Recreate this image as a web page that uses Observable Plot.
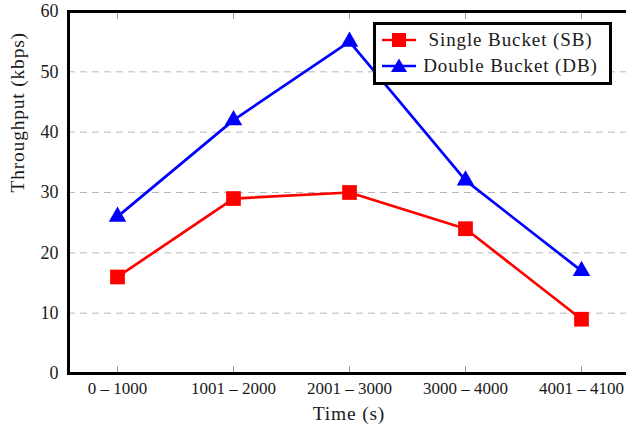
<!DOCTYPE html>
<html>
<head>
<meta charset="utf-8">
<script src="https://cdn.jsdelivr.net/npm/d3@7"></script>
<script src="https://cdn.jsdelivr.net/npm/@observablehq/plot@0.6"></script>
<style>
  html, body { margin: 0; padding: 0; background: #fff; overflow: hidden; }
  #wrap { position: relative; width: 626px; height: 425px; overflow: hidden; }
  #wrap > svg { max-width: none !important; font-family: "Liberation Serif", serif !important; }
  #wrap > svg text { font-family: "Liberation Serif", serif; }
  #legend {
    position: absolute; left: 373px; top: 22px; width: 233px; height: 57px;
    border: 3px solid #000; background: #fff; box-sizing: content-box;
    font-family: "Liberation Serif", serif; font-size: 19px; letter-spacing: 0.9px; color: #1a1a1a;
  }
  #legend .row { position: absolute; left: 0; height: 24px; width: 233px; }
  #legend svg { position: absolute; left: 5px; top: 4px; }
  #legend span { position: absolute; left: 36px; right: 0; text-align: center; top: 1px; white-space: nowrap; }
</style>
</head>
<body>
<div id="wrap"></div>
<script>
const categories = ["0 – 1000", "1001 – 2000", "2001 – 3000", "3000 – 4000", "4001 – 4100"];
const singleBucket = [16, 29, 30, 24, 9];
const doubleBucket = [26, 42, 55, 32, 17];
const yTicks = [0, 10, 20, 30, 40, 50, 60];
const seriesNames = ["Single Bucket (SB)", "Double Bucket (DB)"];
const seriesColors = ["#ff0000", "#0000ff"];

const sb = categories.map((c, i) => ({cat: c, v: singleBucket[i]}));
const db = categories.map((c, i) => ({cat: c, v: doubleBucket[i]}));

const tickShape = {draw(context, l) { context.moveTo(0, 0); context.lineTo(0, -l); }};
const serif = "Liberation Serif";

const chart = Plot.plot({
  width: 630,
  height: 425,
  marginLeft: 68,
  marginRight: 1,
  marginTop: 11,
  marginBottom: 52,
  style: {fontFamily: serif, fontSize: "17px", color: "#1a1a1a", background: "transparent"},
  x: {type: "point", domain: categories, padding: 0.4, label: null},
  y: {domain: [0, 60], label: null},
  marks: [
    Plot.gridY(yTicks.slice(1, -1), {stroke: "#b8b8b8", strokeOpacity: 1, strokeDasharray: "7,5", strokeWidth: 1}),
    Plot.vectorX(categories, {x: d => d, frameAnchor: "bottom", length: 7, anchor: "start", rotate: 0, shape: tickShape, stroke: "#9a9a9a", strokeWidth: 1}),
    Plot.vectorX(categories, {x: d => d, frameAnchor: "top", length: 7, anchor: "start", rotate: 180, shape: tickShape, stroke: "#9a9a9a", strokeWidth: 1}),
    Plot.axisX(categories, {tickSize: 0, tickPadding: 8, fontSize: 17, fontFamily: serif, label: null}),
    Plot.axisY(yTicks, {tickSize: 0, tickPadding: 10, fontSize: 18, fontFamily: serif, label: null}),
    Plot.text(["Time (s)"], {frameAnchor: "bottom", dy: 40, fontSize: 19.5, fontFamily: serif, lineAnchor: "middle"}),
    Plot.text(["Throughput (kbps)"], {frameAnchor: "left", dx: -51, rotate: -90, fontSize: 19.5, fontFamily: serif}),
    Plot.line(sb, {x: "cat", y: "v", stroke: seriesColors[0], strokeWidth: 2.7}),
    Plot.dot(sb, {x: "cat", y: "v", symbol: "square", r: 8.3, fill: seriesColors[0]}),
    Plot.line(db, {x: "cat", y: "v", stroke: seriesColors[1], strokeWidth: 2.7}),
    Plot.dot(db, {x: "cat", y: "v", symbol: "triangle", r: 6.5, fill: seriesColors[1]}),
    Plot.frame({stroke: "#000", strokeWidth: 3})
  ]
});

const wrap = document.getElementById("wrap");
wrap.appendChild(chart);

// force the serif face on every SVG text, and widen the axis titles slightly
d3.select(chart).selectAll("text").style("font-family", "'Liberation Serif', serif");
d3.select(chart).selectAll("text").filter(function() {
  const t = this.textContent;
  return t === "Time (s)" || t === "Throughput (kbps)";
}).style("letter-spacing", "0.8px");

// legend
const legend = document.createElement("div");
legend.id = "legend";
const markers = [
  `<rect x="10" y="1" width="14" height="14" fill="${seriesColors[0]}"/>`,
  `<path d="M17,0.5 L25,14 L9,14 Z" fill="${seriesColors[1]}"/>`
];
seriesNames.forEach((name, i) => {
  const row = document.createElement("div");
  row.className = "row";
  row.style.top = (i === 0 ? 3 : 29) + "px";
  row.innerHTML = `<svg width="36" height="16" viewBox="0 0 34 16"><line x1="0" y1="8" x2="34" y2="8" stroke="${seriesColors[i]}" stroke-width="2.7"/>${markers[i]}</svg><span>${name}</span>`;
  legend.appendChild(row);
});
wrap.appendChild(legend);
</script>
</body>
</html>
